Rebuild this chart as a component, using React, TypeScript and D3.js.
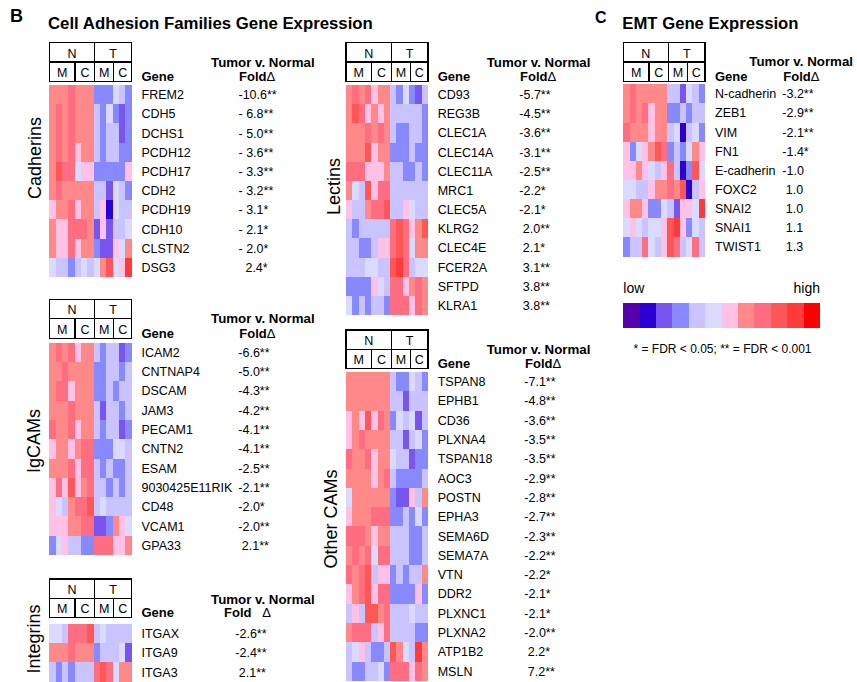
import React from "react";
import * as d3 from "d3";

// 12-step colour key, low -> high
const palette = ["#5500aa", "#2a00d5", "#7755ee", "#8888ff", "#c9c3ff", "#dadaff", "#ffc1e6", "#ff8888", "#ff6e80", "#ff5656", "#ff3a3a", "#ff0000"];

const groupLabels = ["N", "T"];
const subLabels = ["M", "C", "M", "C"];

// Cadherins
const cadherinGenes = ["FREM2", "CDH5", "DCHS1", "PCDH12", "PCDH17", "CDH2", "PCDH19", "CDH10", "CLSTN2", "DSG3"];
const cadherinFold = ["-10.6**", "- 6.8**", "- 5.0**", "- 3.6**", "- 3.3**", "- 3.2**", "- 3.1*", "- 2.1*", "- 2.0*", "  2.4*"];
const cadherinLevels = [
  [7, 7, 7, 8, 7, 7, 7, 3, 3, 3, 5, 4, 3],
  [7, 8, 7, 8, 7, 7, 7, 4, 3, 5, 3, 2, 3],
  [7, 8, 7, 8, 7, 7, 7, 4, 3, 4, 4, 2, 3],
  [7, 8, 7, 8, 6, 7, 7, 4, 3, 4, 4, 3, 3],
  [7, 9, 8, 8, 5, 6, 6, 3, 3, 3, 3, 3, 6],
  [7, 8, 7, 7, 7, 7, 7, 4, 4, 2, 5, 4, 3],
  [6, 7, 7, 8, 6, 7, 7, 4, 6, 1, 5, 4, 4],
  [7, 6, 6, 8, 8, 8, 7, 2, 6, 2, 4, 4, 5],
  [7, 6, 6, 8, 6, 7, 7, 3, 2, 2, 6, 5, 7],
  [5, 4, 4, 3, 4, 5, 4, 5, 7, 9, 5, 6, 10],
];

// IgCAMs
const igcamGenes = ["ICAM2", "CNTNAP4", "DSCAM", "JAM3", "PECAM1", "CNTN2", "ESAM", "9030425E11RIK", "CD48", "VCAM1", "GPA33"];
const igcamFold = ["-6.6**", "-5.0**", "-4.3**", "-4.2**", "-4.1**", "-4.1**", "-2.5**", "-2.1**", "-2.0*", "-2.0**", " 2.1**"];
const igcamLevels = [
  [7, 8, 7, 8, 6, 7, 7, 4, 3, 4, 4, 2, 3],
  [7, 7, 8, 7, 7, 7, 7, 3, 3, 4, 4, 3, 4],
  [7, 8, 8, 6, 7, 7, 7, 3, 3, 4, 3, 4, 4],
  [7, 7, 7, 8, 7, 7, 7, 4, 2, 4, 4, 3, 4],
  [8, 7, 7, 8, 6, 7, 7, 4, 3, 4, 4, 2, 3],
  [6, 7, 7, 6, 7, 8, 8, 3, 3, 3, 5, 5, 4],
  [7, 7, 7, 8, 6, 8, 8, 4, 3, 4, 3, 3, 4],
  [6, 8, 6, 9, 6, 7, 8, 4, 4, 3, 4, 3, 4],
  [6, 5, 4, 7, 8, 8, 9, 4, 5, 4, 4, 4, 4],
  [6, 6, 6, 7, 7, 8, 8, 2, 2, 3, 7, 6, 5],
  [3, 5, 6, 4, 4, 3, 3, 8, 8, 8, 6, 6, 7],
];

// Integrins
const integrinGenes = ["ITGAX", "ITGA9", "ITGA3"];
const integrinFold = ["-2.6**", "-2.4**", " 2.1**"];
const integrinLevels = [
  [5, 5, 4, 8, 8, 8, 9, 4, 5, 4, 4, 4, 4],
  [7, 7, 7, 8, 7, 7, 7, 3, 4, 4, 4, 5, 2],
  [4, 3, 4, 3, 4, 4, 4, 8, 9, 8, 5, 7, 7],
];

// Lectins
const lectinGenes = ["CD93", "REG3B", "CLEC1A", "CLEC14A", "CLEC11A", "MRC1", "CLEC5A", "KLRG2", "CLEC4E", "FCER2A", "SFTPD", "KLRA1"];
const lectinFold = ["-5.7**", "-4.5**", "-3.6**", "-3.1**", "-2.5**", "-2.2*", "-2.1*", " 2.0**", " 2.1*", " 3.1**", " 3.8**", " 3.8**"];
const lectinLevels = [
  [7, 8, 7, 8, 6, 7, 7, 4, 3, 5, 3, 2, 4],
  [7, 9, 8, 6, 7, 6, 7, 4, 4, 4, 4, 4, 3],
  [7, 7, 7, 8, 7, 8, 7, 4, 3, 3, 4, 4, 3],
  [7, 7, 7, 9, 6, 7, 7, 3, 3, 3, 4, 3, 3],
  [8, 8, 8, 6, 6, 6, 7, 4, 4, 3, 3, 4, 3],
  [7, 5, 4, 9, 6, 8, 8, 4, 4, 4, 4, 4, 4],
  [6, 4, 4, 7, 8, 8, 9, 4, 4, 6, 5, 4, 4],
  [4, 3, 4, 4, 4, 4, 4, 8, 9, 8, 6, 7, 9],
  [4, 4, 3, 3, 4, 6, 6, 8, 9, 8, 5, 7, 7],
  [4, 4, 4, 5, 5, 4, 4, 9, 10, 8, 4, 5, 5],
  [3, 3, 3, 3, 6, 5, 4, 8, 8, 6, 7, 8, 7],
  [5, 3, 4, 3, 4, 4, 3, 8, 8, 8, 6, 8, 7],
];

// Other CAMs
const otherGenes = ["TSPAN8", "EPHB1", "CD36", "PLXNA4", "TSPAN18", "AOC3", "POSTN", "EPHA3", "SEMA6D", "SEMA7A", "VTN", "DDR2", "PLXNC1", "PLXNA2", "ATP1B2", "MSLN"];
const otherFold = ["-7.1**", "-4.8**", "-3.6**", "-3.5**", "-3.5**", "-2.9**", "-2.8**", "-2.7**", "-2.3**", "-2.2**", "-2.2*", "-2.1*", "-2.1*", "-2.0**", " 2.2*", " 7.2**"];
const otherLevels = [
  [7, 7, 7, 7, 7, 7, 7, 4, 3, 3, 5, 4, 3],
  [7, 7, 7, 7, 7, 7, 7, 4, 4, 2, 4, 4, 4],
  [6, 7, 6, 9, 6, 8, 7, 3, 5, 4, 5, 2, 4],
  [6, 7, 8, 7, 7, 7, 7, 4, 4, 2, 4, 5, 3],
  [8, 7, 7, 8, 6, 7, 7, 5, 4, 4, 2, 3, 3],
  [7, 7, 7, 7, 6, 7, 8, 4, 3, 3, 3, 3, 4],
  [5, 7, 7, 7, 7, 7, 7, 3, 2, 2, 6, 4, 7],
  [6, 7, 7, 7, 8, 8, 8, 3, 3, 4, 3, 5, 3],
  [8, 8, 8, 7, 6, 7, 7, 4, 4, 4, 3, 3, 4],
  [7, 8, 7, 8, 5, 8, 8, 4, 4, 4, 3, 3, 4],
  [8, 7, 8, 9, 4, 6, 6, 3, 4, 3, 4, 4, 7],
  [6, 7, 8, 9, 6, 8, 8, 3, 3, 3, 3, 6, 3],
  [4, 6, 4, 9, 9, 7, 8, 4, 4, 4, 5, 4, 4],
  [7, 8, 8, 8, 4, 6, 8, 4, 4, 4, 4, 3, 3],
  [4, 5, 6, 4, 3, 3, 4, 9, 7, 5, 4, 10, 7],
  [4, 3, 3, 4, 4, 5, 3, 8, 8, 8, 6, 8, 7],
];

// EMT
const emtGenes = ["N-cadherin", "ZEB1", "VIM", "FN1", "E-cadherin", "FOXC2", "SNAI2", "SNAI1", "TWIST1"];
const emtFold = ["-3.2**", "-2.9**", "-2.1**", "-1.4*", "-1.0", " 1.0", " 1.0", " 1.1", " 1.3"];
const emtLevels = [
  [7, 8, 7, 7, 7, 7, 7, 4, 4, 2, 5, 4, 3],
  [7, 8, 7, 8, 6, 7, 7, 3, 3, 4, 3, 4, 4],
  [8, 7, 7, 7, 6, 7, 7, 4, 5, 1, 4, 5, 3],
  [6, 3, 5, 6, 7, 9, 8, 3, 4, 3, 5, 7, 6],
  [6, 6, 7, 6, 5, 4, 6, 8, 4, 1, 3, 9, 5],
  [5, 5, 4, 4, 6, 7, 7, 8, 7, 9, 1, 4, 6],
  [6, 7, 7, 6, 3, 3, 5, 4, 2, 6, 6, 5, 10],
  [5, 6, 5, 4, 5, 5, 6, 9, 10, 6, 3, 5, 4],
  [3, 4, 4, 8, 5, 4, 6, 9, 8, 4, 5, 8, 4],
];

const FONT = "'Liberation Sans', Arial, Helvetica, sans-serif";
const color = d3.scaleOrdinal<number, string>().domain(d3.range(palette.length)).range(palette);

type PanelProps = {
  genes: string[];
  fold: string[];
  levels: number[][];
  x: number;
  w: number;
  boxTop: number;
  heatTop: number;
  rowH: number;
  geneX: number;
  foldX: number;
  tumorX: number;
  tumorY: number;
  foldHdrX: number;
  foldGap?: string;
  label?: string;
  labelX?: number;
  labelY?: number;
};

function Panel(p: PanelProps) {
  const nCols = p.levels[0].length;
  const xs = d3.scaleBand<number>().domain(d3.range(nCols)).range([p.x, p.x + p.w]);
  const ys = d3.scaleBand<number>().domain(d3.range(p.genes.length)).range([p.heatTop, p.heatTop + p.rowH * p.genes.length]);
  const boxH = 19.3;
  const mid = p.boxTop + boxH;
  const bot = mid + boxH;
  const splits = [p.x, p.x + p.w * 0.313, p.x + p.w * 0.553, p.x + p.w * 0.785, p.x + p.w];
  return (
    <g>
      {p.levels.map((row, r) =>
        row.map((v, c) => (
          <rect key={r + "-" + c} x={xs(c)} y={ys(r)} width={xs.bandwidth() + 0.3} height={ys.bandwidth() + 0.3} fill={color(v)} />
        ))
      )}
      <g fill="none" stroke="#000" strokeWidth={1.2}>
        <rect x={p.x} y={p.boxTop} width={p.w} height={boxH * 2} />
        <line x1={p.x} x2={p.x + p.w} y1={mid} y2={mid} />
        <line x1={splits[2]} x2={splits[2]} y1={p.boxTop} y2={bot} />
        <line x1={splits[1]} x2={splits[1]} y1={mid} y2={bot} strokeWidth={1.6} />
        <line x1={splits[3]} x2={splits[3]} y1={mid} y2={bot} />
      </g>
      <g fontFamily={FONT} fontSize={12.5} textAnchor="middle">
        <text x={(splits[0] + splits[2]) / 2} y={mid - 4.5}>{groupLabels[0]}</text>
        <text x={(splits[2] + splits[4]) / 2} y={mid - 4.5}>{groupLabels[1]}</text>
        {subLabels.map((s, i) => (
          <text key={i} x={(splits[i] + splits[i + 1]) / 2} y={bot - 4.6}>{s}</text>
        ))}
      </g>
      <g fontFamily={FONT} fontWeight="bold" fontSize={13}>
        <text x={p.geneX} y={bot - 0.5}>Gene</text>
        <text x={p.tumorX} y={p.tumorY} fontSize={13.3}>Tumor v. Normal</text>
        <text x={p.foldHdrX} y={bot - 0.5} style={{ whiteSpace: "pre" }}>
          {"Fold" + (p.foldGap || "")}<tspan fontWeight="normal">Δ</tspan>
        </text>
      </g>
      <g fontFamily={FONT} fontSize={12.5}>
        {p.genes.map((g, i) => (
          <text key={g} x={p.geneX} y={(ys(i) || 0) + ys.bandwidth() / 2 + 4.5}>{g}</text>
        ))}
        {p.fold.map((f, i) => (
          <text key={i} x={p.foldX} y={(ys(i) || 0) + ys.bandwidth() / 2 + 4.5} style={{ whiteSpace: "pre" }}>{f}</text>
        ))}
      </g>
      {p.label && (
        <text fontFamily={FONT} fontSize={18} textAnchor="middle" transform={`translate(${p.labelX},${p.labelY}) rotate(-90)`}>
          {p.label}
        </text>
      )}
    </g>
  );
}

function Legend() {
  const xs = d3.scaleBand<number>().domain(d3.range(palette.length)).range([623.3, 820]);
  return (
    <g fontFamily={FONT}>
      <text x={623.3} y={293.3} fontSize={14}>low</text>
      <text x={820} y={293.3} fontSize={14} textAnchor="end">high</text>
      {palette.map((c, i) => (
        <rect key={i} x={xs(i)} y={302.7} width={xs.bandwidth() + 0.3} height={25.6} fill={c} />
      ))}
      <text x={722.5} y={353.3} fontSize={12} textAnchor="middle">* = FDR &lt; 0.05; ** = FDR &lt; 0.001</text>
    </g>
  );
}

export default function App() {
  return (
    <svg width={857} height={682} style={{ position: "absolute", left: 0, top: 0, background: "#fff" }} shapeRendering="crispEdges">
      <g shapeRendering="auto">
        <text x={10} y={22} fontFamily={FONT} fontWeight="bold" fontSize={18}>B</text>
        <text x={48} y={29} fontFamily={FONT} fontWeight="bold" fontSize={16.8}>Cell Adhesion Families Gene Expression</text>
        <text x={595} y={22.5} fontFamily={FONT} fontWeight="bold" fontSize={16}>C</text>
        <text x={622.3} y={29.3} fontFamily={FONT} fontWeight="bold" fontSize={16.7}>EMT Gene Expression</text>
      </g>
      <Panel genes={cadherinGenes} fold={cadherinFold} levels={cadherinLevels}
        x={49.3} w={82.2} boxTop={42.7} heatTop={85} rowH={19.2}
        geneX={141.5} foldX={238.5} tumorX={211} tumorY={66.7} foldHdrX={239}
        label="Cadherins" labelX={41} labelY={158} />
      <Panel genes={igcamGenes} fold={igcamFold} levels={igcamLevels}
        x={49.3} w={82.2} boxTop={299.5} heatTop={342.7} rowH={19.3}
        geneX={141.5} foldX={238.3} tumorX={211} tumorY={323.3} foldHdrX={239.3}
        label="IgCAMs" labelX={40} labelY={441} />
      <Panel genes={integrinGenes} fold={integrinFold} levels={integrinLevels}
        x={49.3} w={82.2} boxTop={579} heatTop={624} rowH={19.2}
        geneX={141.5} foldX={235.3} tumorX={211} tumorY={603.5} foldHdrX={224} foldGap="   "
        label="Integrins" labelX={40} labelY={639} />
      <Panel genes={lectinGenes} fold={lectinFold} levels={lectinLevels}
        x={346} w={82} boxTop={42.7} heatTop={85} rowH={19.17}
        geneX={437.7} foldX={519.3} tumorX={486.7} tumorY={66.7} foldHdrX={520}
        label="Lectins" labelX={340} labelY={186.5} />
      <Panel genes={otherGenes} fold={otherFold} levels={otherLevels}
        x={346} w={82} boxTop={330} heatTop={372} rowH={19.3}
        geneX={437.7} foldX={524.3} tumorX={486.7} tumorY={354} foldHdrX={525}
        label="Other CAMs" labelX={337} labelY={519} />
      <Panel genes={emtGenes} fold={emtFold} levels={emtLevels}
        x={623.3} w={81.7} boxTop={42.7} heatTop={84.3} rowH={19.1}
        geneX={715} foldX={782.3} tumorX={749.3} tumorY={65.7} foldHdrX={783.3} />
      <Legend />
    </svg>
  );
}
